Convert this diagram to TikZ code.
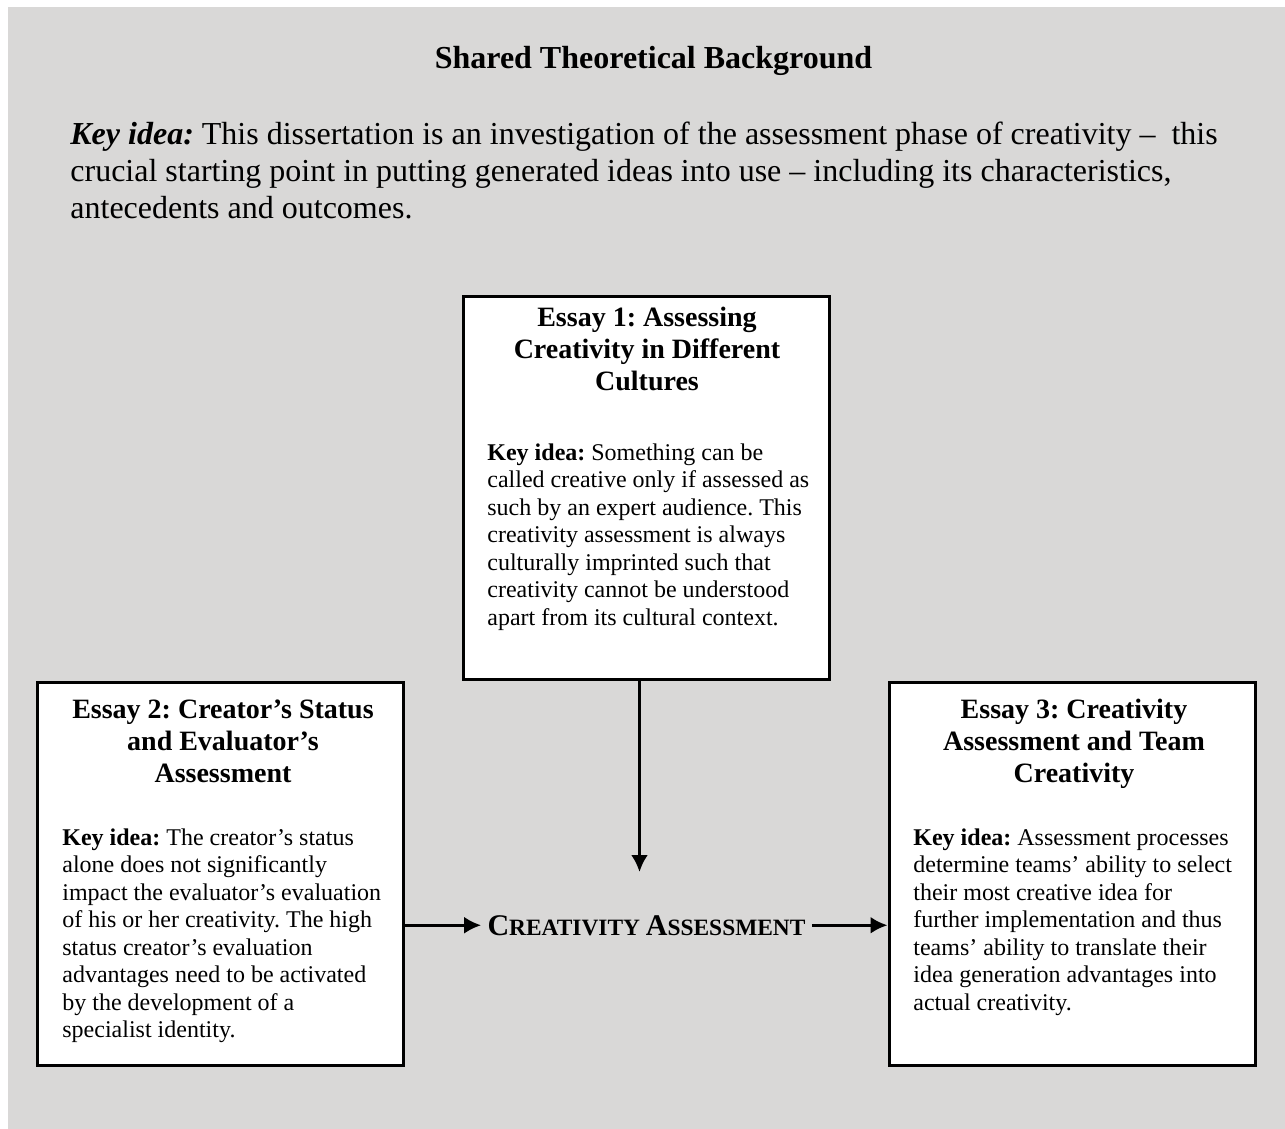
\documentclass[tikz,border=0pt]{standalone}
\usepackage{fontspec}
\setmainfont{Liberation Serif}
\usepackage{xcolor}
\usetikzlibrary{arrows.meta}
\definecolor{bggray}{HTML}{D9D8D7}
\frenchspacing
\tikzset{
  essaybox/.style={draw=black,fill=white,line width=1.5pt,minimum width=183pt,minimum height=191.5pt},
  essaytitle/.style={anchor=base,inner sep=0pt,align=center,font=\fontsize{14}{16}\selectfont\bfseries},
  essaytext/.style={anchor=base west,inner sep=0pt,align=left,font=\fontsize{12}{13.75}\selectfont},
  flow/.style={black,-{Latex[length=8.5pt,width=8.5pt]},line width=1.5pt},
}
\begin{document}
\begin{tikzpicture}[x=0.5pt,y=-0.5pt]
   \useasboundingbox (0,0) rectangle (1285,1129);
   \fill[bggray] (8,7) rectangle (1285,1129);
   \node[anchor=base,inner sep=0pt,font=\fontsize{16}{18.4}\selectfont\bfseries] (heading) at (653.5,69) {Shared Theoretical Background};
   \node[anchor=base west,inner sep=0pt,align=left,font=\fontsize{16}{18.4}\selectfont] (keyidea) at (70,218)
      {\textbf{\textit{Key idea:}} This dissertation is an investigation of the assessment phase of creativity --\ \ this\\
       crucial starting point in putting generated ideas into use -- including its characteristics,\\
       antecedents and outcomes.};
   % essay 1
   \node[essaybox] (essay1) at (646,487.5) {};
   \node[essaytitle] (title1) at (647,390) {Essay 1: Assessing\\Creativity in Different\\Cultures};
   \node[essaytext] (text1) at (487,625) {\textbf{Key idea:} Something can be\\
      called creative only if assessed as\\
      such by an expert audience. This\\
      creativity assessment is always\\
      culturally imprinted such that\\
      creativity cannot be understood\\
      apart from its cultural context.};
   % essay 2
   \node[essaybox] (essay2) at (220.5,873.5) {};
   \node[essaytitle] (title2) at (223,782) {Essay 2: Creator’s Status\\and Evaluator’s\\Assessment};
   \node[essaytext] (text2) at (62,1037.5) {\textbf{Key idea:} The creator’s status\\
      alone does not significantly\\
      impact the evaluator’s evaluation\\
      of his or her creativity. The high\\
      status creator’s evaluation\\
      advantages need to be activated\\
      by the development of a\\
      specialist identity.};
   % essay 3
   \node[essaybox] (essay3) at (1072,873.5) {};
   \node[essaytitle] (title3) at (1074,782) {Essay 3: Creativity\\Assessment and Team\\Creativity};
   \node[essaytext] (text3) at (913,1010) {\textbf{Key idea:} Assessment processes\\
      determine teams’ ability to select\\
      their most creative idea for\\
      further implementation and thus\\
      teams’ ability to translate their\\
      idea generation advantages into\\
      actual creativity.};
   % centre
   \node[anchor=base,inner sep=3pt,font=\bfseries] (assess) at (646.5,935)
      {\fontsize{15}{17}\selectfont C\fontsize{11.7}{14}\selectfont REATIVITY \fontsize{15}{17}\selectfont A\fontsize{11.7}{14}\selectfont SSESSMENT};
   \coordinate (assesstop) at (639.5,872);
   \draw[flow] (essay1.south -| assesstop)--(assesstop);
   \draw[flow] (essay2.east |- assess.west)--(assess.west);
   \draw[flow] (assess.east)--(essay3.west |- assess.east);
\end{tikzpicture}
\end{document}
